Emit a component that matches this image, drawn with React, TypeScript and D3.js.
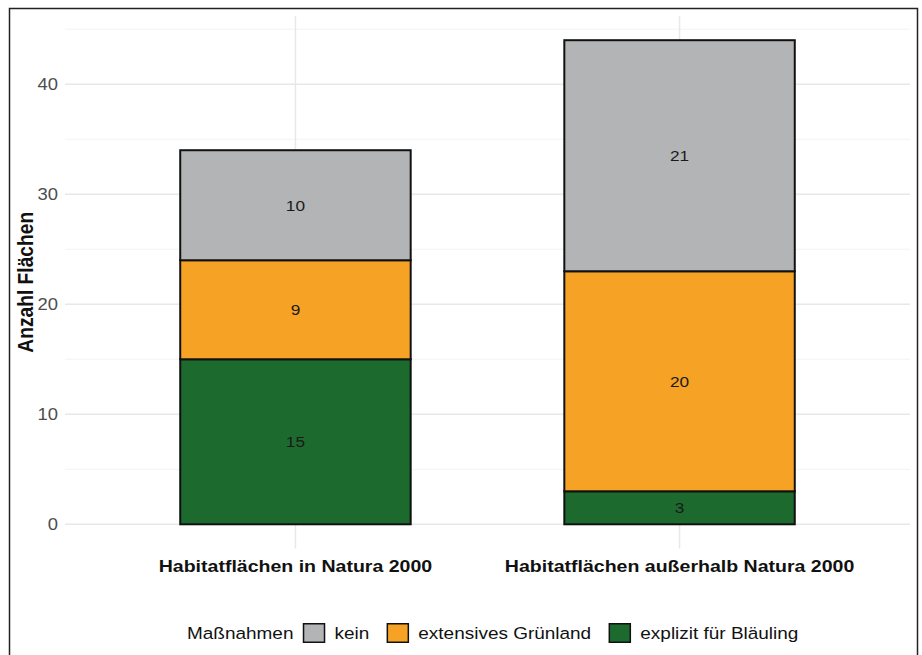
import React from "react";
import * as d3 from "d3";

const categories = ["Habitatflächen in Natura 2000", "Habitatflächen außerhalb Natura 2000"];
const measures = ["explizit für Bläuling", "extensives Grünland", "kein"];
const explizit = [15, 3];
const extensiv = [9, 20];
const kein = [10, 21];
const yTicks = [0, 10, 20, 30, 40];
const yMinor = [5, 15, 25, 35, 45];
const yTitle = "Anzahl Flächen";
const legendTitle = "Maßnahmen";
const legendOrder = ["kein", "extensives Grünland", "explizit für Bläuling"];
const colors: Record<string, string> = {
  kein: "#b3b4b6",
  "extensives Grünland": "#f6a325",
  "explizit für Bläuling": "#1d6a2e",
};

const W = 922;
const H = 655;
const SX = 1.15; // horizontal stretch of the reference image
const panel = { left: 65, right: 910, top: 16, bottom: 548.5 };
const font = "'Liberation Sans', Arial, Helvetica, sans-serif";

let ctx: CanvasRenderingContext2D | null = null;
function textW(t: string, size: number, weight = "normal") {
  if (!ctx) ctx = document.createElement("canvas").getContext("2d");
  if (!ctx) return t.length * size * 0.55;
  ctx.font = `${weight} ${size}px 'Liberation Sans'`;
  return ctx.measureText(t).width;
}

function SText(props: { x: number; y: number; size: number; anchor?: string; weight?: string; fill?: string; dy?: string; children: any }) {
  const { x, y, size, anchor = "start", weight = "normal", fill = "#111", dy = "0", children } = props;
  return (
    <text
      transform={`translate(${x},${y}) scale(${SX},1)`}
      textAnchor={anchor as any}
      fontSize={size}
      fontWeight={weight}
      fill={fill}
      dy={dy}
    >
      {children}
    </text>
  );
}

export default function App() {
  const x = d3.scalePoint<string>().domain(categories).range([panel.left, panel.right]).padding(0.6);
  const bw = x.step() * 0.6;
  const y = d3.scaleLinear().domain([-2.2, 46.2]).range([panel.bottom, panel.top]);

  const rows = categories.map((c, i) => ({
    cat: c,
    "explizit für Bläuling": explizit[i],
    "extensives Grünland": extensiv[i],
    kein: kein[i],
  }));
  const stack = d3.stack<any>().keys(measures)(rows);

  // legend layout (ggplot-like)
  const legY = 633;
  const lfs = 16.5;
  const keyW = 21;
  const keyH = 18.5;
  const g1 = 10;
  const g3 = 18;
  const items: { type: string; x: number; w: number; label: string }[] = [];
  let cx = 0;
  const tw = textW(legendTitle, lfs) * SX;
  items.push({ type: "title", x: cx, w: tw, label: legendTitle });
  cx += tw + g1;
  legendOrder.forEach((k, i) => {
    items.push({ type: "key", x: cx, w: keyW, label: k });
    cx += keyW + g1;
    const w = textW(k, lfs) * SX;
    items.push({ type: "text", x: cx, w, label: k });
    cx += w + (i < legendOrder.length - 1 ? g3 : 0);
  });
  const legStart = 187;

  return (
    <svg width={W} height={H} style={{ position: "absolute", left: 0, top: 0, background: "#fff" }} fontFamily={font}>
      <rect x={0} y={0} width={W} height={H} fill="#fff" />
      <path d={`M9.5,${H + 2} V8.5 H917.5 V${H + 2}`} fill="none" stroke="#222" strokeWidth={1.5} />
      {yMinor.map((t) => (
        <line key={"mi" + t} x1={panel.left} x2={panel.right} y1={y(t)} y2={y(t)} stroke="#f3f3f3" strokeWidth={1} />
      ))}
      {yTicks.map((t) => (
        <line key={"ma" + t} x1={panel.left} x2={panel.right} y1={y(t)} y2={y(t)} stroke="#e8e8e8" strokeWidth={1.5} />
      ))}
      {categories.map((c) => (
        <line key={"v" + c} x1={x(c)} x2={x(c)} y1={panel.top} y2={panel.bottom} stroke="#e8e8e8" strokeWidth={1.5} />
      ))}
      {stack.map((s) =>
        s.map((d, i) => (
          <rect
            key={s.key + i}
            x={(x(categories[i]) as number) - bw / 2}
            y={y(d[1])}
            width={bw}
            height={y(d[0]) - y(d[1])}
            fill={colors[s.key]}
            stroke="#111"
            strokeWidth={2}
          />
        ))
      )}
      {stack.map((s) =>
        s.map((d, i) => (
          <SText key={"l" + s.key + i} x={x(categories[i]) as number} y={(y(d[0]) + y(d[1])) / 2} dy="0.36em" anchor="middle" size={15} fill="#1a1a1a">
            {d[1] - d[0]}
          </SText>
        ))
      )}
      {yTicks.map((t) => (
        <SText key={"yt" + t} x={58} y={y(t)} dy="0.36em" anchor="end" size={16} fill="#4d4d4d">
          {t}
        </SText>
      ))}
      <text
        transform={`translate(33,${(panel.top + panel.bottom) / 2}) rotate(-90) scale(1,${SX})`}
        textAnchor="middle"
        fontSize={19.2}
        fontWeight="bold"
        fill="#111"
      >
        {yTitle}
      </text>
      {categories.map((c) => (
        <SText key={"xl" + c} x={x(c) as number} y={572} anchor="middle" size={17} weight="bold" fill="#111">
          {c}
        </SText>
      ))}
      <g transform={`translate(${legStart},${legY})`}>
        {items.map((it, i) =>
          it.type === "key" ? (
            <rect key={i} x={it.x} y={-keyH / 2} width={it.w} height={keyH} fill={colors[it.label]} stroke="#111" strokeWidth={1.5} />
          ) : (
            <SText key={i} x={it.x} y={0} dy="0.36em" size={lfs} fill="#111">
              {it.label}
            </SText>
          )
        )}
      </g>
    </svg>
  );
}
